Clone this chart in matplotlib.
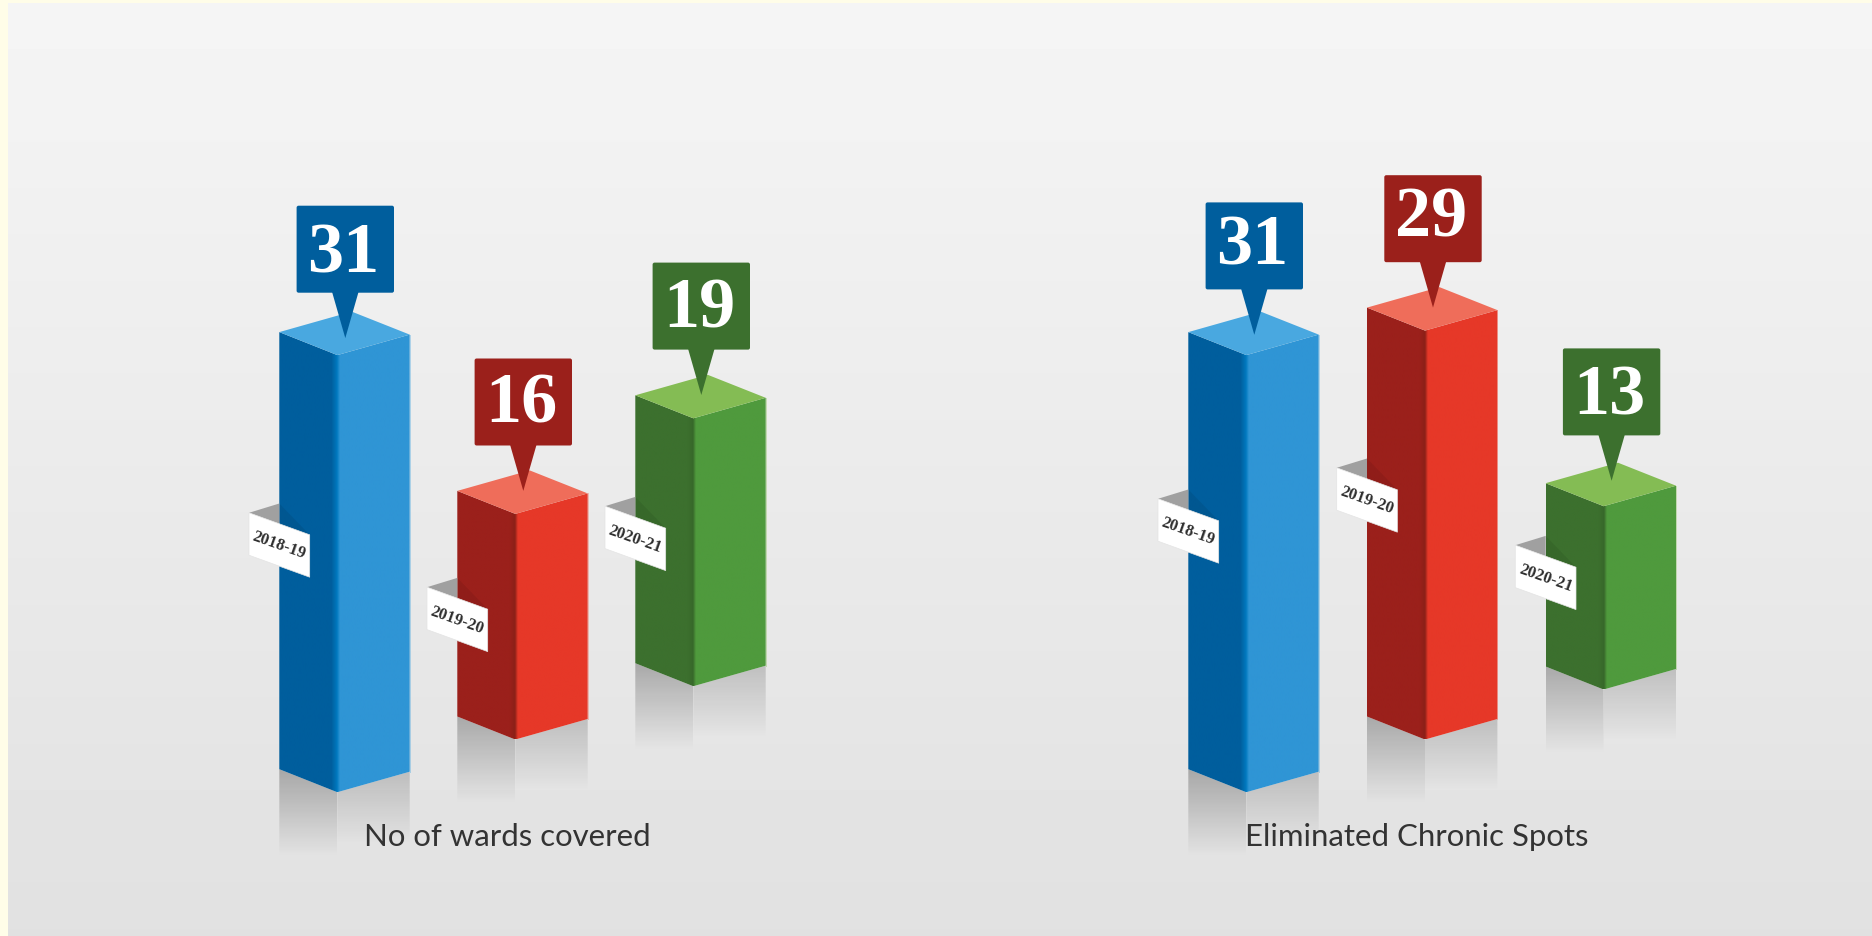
import numpy as np
import matplotlib
matplotlib.use("Agg")
import matplotlib.pyplot as plt
from matplotlib.colors import to_rgb
from matplotlib.patches import FancyBboxPatch, Polygon

# Chart data
PERIODS = ["2018-19", "2019-20", "2020-21"]
PANEL_TITLES = ["No of wards covered", "Eliminated Chronic Spots"]
WARDS_COVERED = [31, 16, 19]
CHRONIC_SPOTS = [31, 29, 13]

# Face colours per period: left face, seam highlight, right face, top face
PALETTE = [
    ("#005e9d", "#0079bf", "#2f95d5", "#49a8e0"),
    ("#9b201b", "#8c2018", "#e63828", "#ef6d5a"),
    ("#3c702e", "#37682a", "#4f9a3d", "#84bc54"),
]

# Canvas layout, in pixels
W, H = 1872, 937
PX_PER_UNIT = 14.1
LEFT_W, RIGHT_W = 58, 72.4
LEFT_RISE, RIGHT_RISE = 23, 20.5

SEAMS = [[337.3, 515.3, 693.3], [1246.3, 1425, 1603.6]]
BASES = [[793.2, 740.5, 687.2], [793.2, 740.5, 690.5]]
POINTER_OFFSETS = [[17, 23, 23.3], [20.3, 23, 25.4]]
DIGIT_LIFTS = [[21.7, 23.7, 23], [25.7, 26.6, 21.7]]
TAG_TOPS = [[513.8, 588.2, 507.2], [499.8, 468.8, 546.2]]
TITLE_CENTRES = [507, 1416.8]
TITLE_BASELINE = 846.5

BOX_W, BOX_H, NECK_H, NECK_W = 97.4, 87, 45.4, 26.6
TAG_W, TAG_H, TAG_DROP = 60.7, 42.4, 22
BAND_COLOR = "#a0a0a0"

TAG_FONT = ["Liberation Serif", "DejaVu Serif"]
TITLE_FONT = ["Lato", "DejaVu Sans"]
DIGIT_FONT = ["Liberation Serif", "DejaVu Serif"]

fig = plt.figure(figsize=(W / 100, H / 100), dpi=100, facecolor="#fffde8")
ax = fig.add_axes([0, 0, 1, 1])
ax.set_xlim(0, W)
ax.set_ylim(H, 0)
ax.axis("off")

# Page background: soft vertical grey ramp inside a cream rim
ramp = np.linspace(0xf5, 0xe1, 256)[:, None] / 255
ax.imshow(ramp, cmap="gray", vmin=0, vmax=1, extent=(8, W, H, 4),
          aspect="auto", interpolation="bilinear", zorder=0)


def fading_shadow(x0, x1, y_top, fade, alpha, poly):
    """Floor reflection: black wash fading out downward, clipped to poly."""
    grad = np.zeros((256, 2, 4))
    grad[..., 3] = np.linspace(alpha, 0, 256)[:, None]
    im = ax.imshow(grad, extent=(x0, x1, y_top + fade, y_top), aspect="auto",
                   interpolation="bilinear", zorder=1)
    clip = Polygon(poly, closed=True, transform=ax.transData, fc="none", ec="none")
    ax.add_patch(clip)
    im.set_clip_path(clip)


def front_faces(xl, xs, xr, poly, colors):
    """Two front faces as one horizontal gradient with a soft seam."""
    left, seam, right, _ = [np.array(to_rgb(c)) for c in colors]
    xs_grid = np.arange(xl, xr, 0.5)
    stops = [xl, xs - 6, xs - 0.5, xs + 2.5, xr]
    rows = [np.interp(xs_grid, stops, [left[i], left[i], seam[i], right[i], right[i]])
            for i in range(3)]
    img = np.stack(rows, axis=-1)[None, :, :]
    top = min(p[1] for p in poly)
    bot = max(p[1] for p in poly)
    im = ax.imshow(img, extent=(xl, xr, bot, top), aspect="auto",
                   interpolation="bilinear", zorder=2)
    clip = Polygon(poly, closed=True, transform=ax.transData, fc="none", ec="none")
    ax.add_patch(clip)
    im.set_clip_path(clip)


def draw_column(value, label, seam_x, base_y, pointer_off, digit_lift, tag_y, colors):
    xl, xr = seam_x - LEFT_W, seam_x + RIGHT_W
    top_y = base_y - value * PX_PER_UNIT
    yl_b, yr_b = base_y - LEFT_RISE, base_y - RIGHT_RISE
    yl_t, yr_t = top_y - LEFT_RISE, top_y - RIGHT_RISE

    # Floor reflection under each face
    fading_shadow(xl, seam_x, yl_b, 87, 0.27,
                  [(xl, yl_b), (seam_x, base_y), (seam_x, yl_b + 87), (xl, yl_b + 87)])
    fading_shadow(seam_x, xr, yr_b, 72, 0.17,
                  [(seam_x, base_y), (xr, yr_b), (xr, yr_b + 72), (seam_x, yr_b + 72)])

    # Column body and lid
    body = [(xl, yl_t), (seam_x, top_y), (xr, yr_t), (xr, yr_b), (seam_x, base_y), (xl, yl_b)]
    front_faces(xl, seam_x, xr, body, colors)
    ax.plot([xr, xr], [yr_t, yr_b], color=colors[3], lw=0.7, alpha=0.4, zorder=2.1)
    lid = [(xl, yl_t), (seam_x, top_y), (xr, yr_t), (xl + xr - seam_x, yl_t + yr_t - top_y)]
    ax.add_patch(Polygon(lid, closed=True, fc=colors[3], ec="none", zorder=3))

    # Value callout: rounded box with a downward spike
    tip_x, tip_y = seam_x + 8, top_y - pointer_off
    box_bottom = tip_y - NECK_H
    box_left = tip_x - BOX_W / 2
    ax.add_patch(FancyBboxPatch((box_left, box_bottom - BOX_H), BOX_W, BOX_H,
                                boxstyle="round,pad=0,rounding_size=2",
                                fc=colors[0], ec="none", zorder=4))
    ax.add_patch(Polygon([(tip_x - NECK_W / 2, box_bottom - 1), (tip_x + NECK_W / 2, box_bottom - 1),
                          (tip_x, tip_y)], closed=True, fc=colors[0], ec="none", zorder=4))
    ax.text(tip_x - 2, box_bottom - digit_lift, str(value), color="white",
            family=DIGIT_FONT, weight="bold", fontsize=52, ha="center", va="baseline", zorder=5)

    # Slanted period tag folded around the left face
    ax.add_patch(Polygon([(xl, tag_y - 9.3), (xl, tag_y + 11), (xl - 30.3, tag_y)], closed=True,
                         fc=BAND_COLOR, ec="none", zorder=3))
    ax.add_patch(Polygon([(xl, tag_y + 11), (xl + 30.4, tag_y + TAG_DROP), (xl, tag_y - 9.3)],
                         closed=True, fc="black", alpha=0.07, ec="none", zorder=3))
    tag = [(xl - 30.3, tag_y), (xl + 30.4, tag_y + TAG_DROP),
           (xl + 30.4, tag_y + TAG_DROP + TAG_H), (xl - 30.3, tag_y + TAG_H)]
    ax.add_patch(Polygon(tag, closed=True, fc="white", ec="#e4e4e4", lw=0.5, zorder=4))
    ax.text(xl, tag_y + (TAG_DROP + TAG_H) / 2, label, color="#2e2e2e", family=TAG_FONT,
            weight="bold", fontsize=12, rotation=-19.5, rotation_mode="anchor",
            transform_rotates_text=False, ha="center", va="center", zorder=5)


for p, series in enumerate([WARDS_COVERED, CHRONIC_SPOTS]):
    for i, value in enumerate(series):
        draw_column(value, PERIODS[i], SEAMS[p][i], BASES[p][i], POINTER_OFFSETS[p][i],
                    DIGIT_LIFTS[p][i], TAG_TOPS[p][i], PALETTE[i])
    ax.text(TITLE_CENTRES[p], TITLE_BASELINE, PANEL_TITLES[p], color="#333333",
            family=TITLE_FONT, fontsize=22.4, ha="center", va="baseline", zorder=6)

ax.set_xlim(0, W)
ax.set_ylim(H, 0)
fig.savefig("out.png", dpi=100, facecolor=fig.get_facecolor())
